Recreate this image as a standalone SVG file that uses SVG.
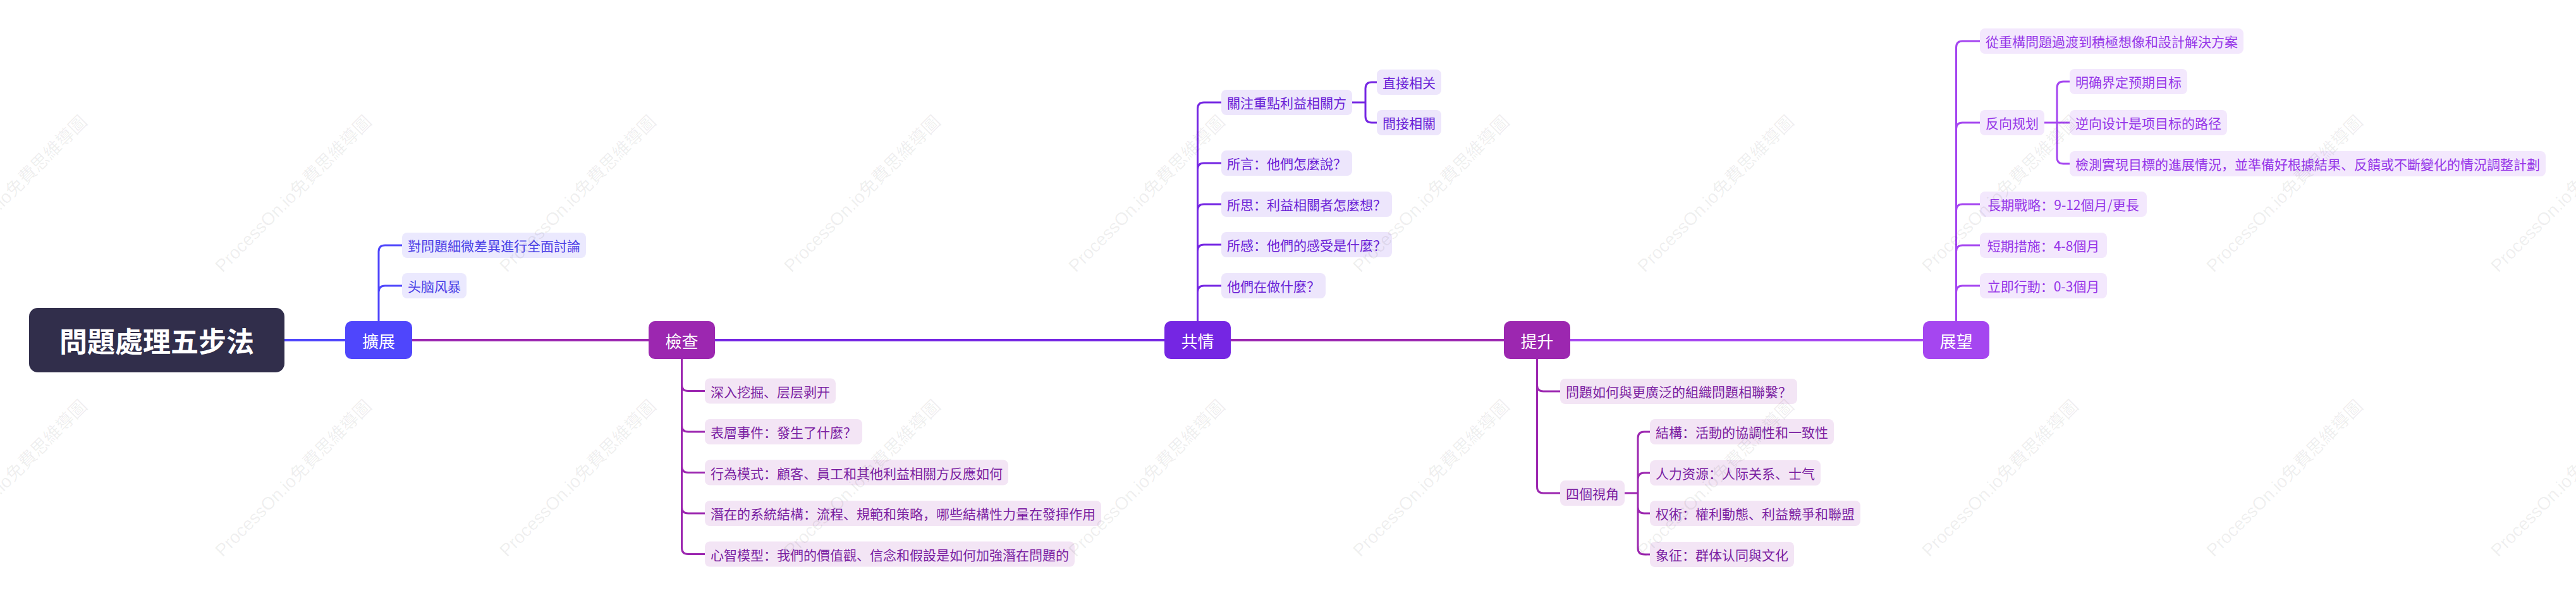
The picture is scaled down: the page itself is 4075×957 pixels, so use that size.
<svg xmlns="http://www.w3.org/2000/svg" width="4075" height="957" viewBox="0 0 4075 957">
<style>
text{font-family:"Noto Sans CJK SC","Noto Sans CJK TC",sans-serif;}
.t{font-size:21px;text-anchor:middle;dominant-baseline:central;}
.mt{font-size:26px;fill:#fff;text-anchor:middle;dominant-baseline:central;}
.rt{font-size:44px;font-weight:bold;fill:#fff;text-anchor:middle;dominant-baseline:central;}
.c{fill:none;stroke-width:3;stroke-linejoin:round;}
.m{fill:none;stroke-width:4;}
.bA{fill:#ebe9fe}.tA{fill:#4a3fe6}.sA{stroke:#4f46fc}
.bB{fill:#f3e5f5}.tB{fill:#7b1fa2}.sB{stroke:#9c27b0}
.bC{fill:#ede6fc}.tC{fill:#6a21d6}.sC{stroke:#7526e3}
.bD{fill:#f3e8fd}.tD{fill:#9636e8}.sD{stroke:#a546f0}
.wm{font-family:"Liberation Sans","Noto Sans CJK TC",sans-serif;font-size:28px;fill:#000;fill-opacity:0.07;}
</style>
<rect width="4075" height="957" fill="#fff"/>
<g id="connectors">
<path class="m sA" d="M450,538H546"/>
<path class="m sB" d="M652,538H1026"/>
<path class="m sC" d="M1131,538H1842"/>
<path class="m sB" d="M1947,538H2379"/>
<path class="m sD" d="M2484,538H3042"/>
<path class="c sA" d="M599,508V398Q599,388 609,388H636M599,508V462Q599,452 609,452H636"/>
<path class="c sB" d="M1078.5,568V608.5Q1078.5,618.5 1088.5,618.5H1115M1078.5,568V673Q1078.5,683 1088.5,683H1115M1078.5,568V737.5Q1078.5,747.5 1088.5,747.5H1115M1078.5,568V802Q1078.5,812 1088.5,812H1115M1078.5,568V866.5Q1078.5,876.5 1088.5,876.5H1115"/>
<path class="c sC" d="M1894.5,508V172Q1894.5,162 1904.5,162H1932M1894.5,508V268Q1894.5,258 1904.5,258H1932M1894.5,508V333Q1894.5,323 1904.5,323H1932M1894.5,508V397Q1894.5,387 1904.5,387H1932M1894.5,508V462Q1894.5,452 1904.5,452H1932"/>
<path class="c sC" d="M2139,162H2160V140Q2160,130 2170,130H2178M2139,162H2160V184Q2160,194 2170,194H2178"/>
<path class="c sB" d="M2431.5,568V609Q2431.5,619 2441.5,619H2468M2431.5,568V770Q2431.5,780 2441.5,780H2468"/>
<path class="c sB" d="M2570,780H2591V693Q2591,683 2601,683H2610M2570,780H2591V758Q2591,748 2601,748H2610M2570,780H2591V802Q2591,812 2601,812H2610M2570,780H2591V867Q2591,877 2601,877H2610"/>
<path class="c sD" d="M3094.5,508V75Q3094.5,65 3104.5,65H3132M3094.5,508V204Q3094.5,194 3104.5,194H3132M3094.5,508V333Q3094.5,323 3104.5,323H3132M3094.5,508V398Q3094.5,388 3104.5,388H3132M3094.5,508V462Q3094.5,452 3104.5,452H3132"/>
<path class="c sD" d="M3234,194H3254V139Q3254,129 3264,129H3274M3234,194H3274M3234,194H3254V249Q3254,259 3264,259H3274"/>
</g>
<g id="root"><rect x="46" y="487" width="404" height="102" rx="14" fill="#312e4b"/><text class="rt" x="248" y="538">問題處理五步法</text></g>
<g id="n-kuozhan"><rect x="546" y="508" width="106" height="60" rx="10" fill="#4f46fc"/><text class="mt" x="599" y="538">擴展</text></g>
<g id="n-jiancha"><rect x="1026" y="508" width="105" height="60" rx="10" fill="#9c27b0"/><text class="mt" x="1078.5" y="538">檢查</text></g>
<g id="n-gongqing"><rect x="1842" y="508" width="105" height="60" rx="10" fill="#7526e3"/><text class="mt" x="1894.5" y="538">共情</text></g>
<g id="n-tisheng"><rect x="2379" y="508" width="105" height="60" rx="10" fill="#9c27b0"/><text class="mt" x="2431.5" y="538">提升</text></g>
<g id="n-zhanwang"><rect x="3042" y="508" width="105" height="60" rx="10" fill="#a546f0"/><text class="mt" x="3094.5" y="538">展望</text></g>

<g id="a1"><rect class="bA" x="636" y="368" width="291" height="40" rx="8"/><text class="t tA" x="781.5" y="388">對問題細微差異進行全面討論</text></g>
<g id="a2"><rect class="bA" x="636" y="432" width="102" height="40" rx="8"/><text class="t tA" x="687" y="452">头脑风暴</text></g>

<g id="b1"><rect class="bB" x="1115" y="598.5" width="207" height="40" rx="8"/><text class="t tB" x="1218.5" y="618.5">深入挖掘、层层剥开</text></g>
<g id="b2"><rect class="bB" x="1115" y="663" width="249" height="40" rx="8"/><text class="t tB" x="1239.5" y="683">表層事件：發生了什麼？</text></g>
<g id="b3"><rect class="bB" x="1115" y="727.5" width="480" height="40" rx="8"/><text class="t tB" x="1355" y="747.5">行為模式：顧客、員工和其他利益相關方反應如何</text></g>
<g id="b4"><rect class="bB" x="1115" y="792" width="627" height="40" rx="8"/><text class="t tB" x="1428.5" y="812">潛在的系統結構：流程、規範和策略，哪些結構性力量在發揮作用</text></g>
<g id="b5"><rect class="bB" x="1115" y="856.5" width="585" height="40" rx="8"/><text class="t tB" x="1407.5" y="876.5">心智模型：我們的價值觀、信念和假設是如何加強潛在問題的</text></g>

<g id="c1"><rect class="bC" x="1932" y="142" width="207" height="40" rx="8"/><text class="t tC" x="2035.5" y="162">關注重點利益相關方</text></g>
<g id="c1a"><rect class="bC" x="2178" y="110" width="102" height="40" rx="8"/><text class="t tC" x="2229" y="130">直接相关</text></g>
<g id="c1b"><rect class="bC" x="2178" y="174" width="102" height="40" rx="8"/><text class="t tC" x="2229" y="194">間接相關</text></g>
<g id="c2"><rect class="bC" x="1932" y="238" width="207" height="40" rx="8"/><text class="t tC" x="2035.5" y="258">所言：他們怎麼說？</text></g>
<g id="c3"><rect class="bC" x="1932" y="303" width="270" height="40" rx="8"/><text class="t tC" x="2067" y="323">所思：利益相關者怎麼想？</text></g>
<g id="c4"><rect class="bC" x="1932" y="367" width="270" height="40" rx="8"/><text class="t tC" x="2067" y="387">所感：他們的感受是什麼？</text></g>
<g id="c5"><rect class="bC" x="1932" y="432" width="165" height="40" rx="8"/><text class="t tC" x="2014.5" y="452">他們在做什麼？</text></g>

<g id="d1"><rect class="bB" x="2468" y="599" width="375" height="40" rx="8"/><text class="t tB" x="2655.5" y="619">問題如何與更廣泛的組織問題相聯繫？</text></g>
<g id="d2"><rect class="bB" x="2468" y="760" width="102" height="40" rx="8"/><text class="t tB" x="2519" y="780">四個視角</text></g>
<g id="d2a"><rect class="bB" x="2610" y="663" width="291" height="40" rx="8"/><text class="t tB" x="2755.5" y="683">結構：活動的協調性和一致性</text></g>
<g id="d2b"><rect class="bB" x="2610" y="728" width="270" height="40" rx="8"/><text class="t tB" x="2745" y="748">人力资源：人际关系、士气</text></g>
<g id="d2c"><rect class="bB" x="2610" y="792" width="333" height="40" rx="8"/><text class="t tB" x="2776.5" y="812">权術：權利動態、利益競爭和聯盟</text></g>
<g id="d2d"><rect class="bB" x="2610" y="857" width="228" height="40" rx="8"/><text class="t tB" x="2724" y="877">象征：群体认同與文化</text></g>

<g id="e1"><rect class="bD" x="3132" y="45" width="417" height="40" rx="8"/><text class="t tD" x="3340.5" y="65">從重構問題過渡到積極想像和設計解決方案</text></g>
<g id="e2"><rect class="bD" x="3132" y="174" width="102" height="40" rx="8"/><text class="t tD" x="3183" y="194">反向规划</text></g>
<g id="e2a"><rect class="bD" x="3274" y="109" width="186" height="40" rx="8"/><text class="t tD" x="3367" y="129">明确界定预期目标</text></g>
<g id="e2b"><rect class="bD" x="3274" y="174" width="249" height="40" rx="8"/><text class="t tD" x="3398.5" y="194">逆向设计是项目标的路径</text></g>
<g id="e2c"><rect class="bD" x="3274" y="239" width="753" height="40" rx="8"/><text class="t tD" x="3650.5" y="259">檢測實現目標的進展情況，並準備好根據結果、反饋或不斷變化的情況調整計劃</text></g>
<g id="e3"><rect class="bD" x="3132" y="303" width="264" height="40" rx="8"/><text class="t tD" x="3264" y="323">長期戰略：9-12個月/更長</text></g>
<g id="e4"><rect class="bD" x="3132" y="368" width="201" height="40" rx="8"/><text class="t tD" x="3232.5" y="388">短期措施：4-8個月</text></g>
<g id="e5"><rect class="bD" x="3132" y="432" width="201" height="40" rx="8"/><text class="t tD" x="3232.5" y="452">立即行動：0-3個月</text></g>

<g id="watermarks">
<text class="wm" x="-98" y="432" transform="rotate(-45 -98 432)">ProcessOn.io免費思維導圖</text>
<text class="wm" x="352" y="432" transform="rotate(-45 352 432)">ProcessOn.io免費思維導圖</text>
<text class="wm" x="802" y="432" transform="rotate(-45 802 432)">ProcessOn.io免費思維導圖</text>
<text class="wm" x="1252" y="432" transform="rotate(-45 1252 432)">ProcessOn.io免費思維導圖</text>
<text class="wm" x="1702" y="432" transform="rotate(-45 1702 432)">ProcessOn.io免費思維導圖</text>
<text class="wm" x="2152" y="432" transform="rotate(-45 2152 432)">ProcessOn.io免費思維導圖</text>
<text class="wm" x="2602" y="432" transform="rotate(-45 2602 432)">ProcessOn.io免費思維導圖</text>
<text class="wm" x="3052" y="432" transform="rotate(-45 3052 432)">ProcessOn.io免費思維導圖</text>
<text class="wm" x="3502" y="432" transform="rotate(-45 3502 432)">ProcessOn.io免費思維導圖</text>
<text class="wm" x="3952" y="432" transform="rotate(-45 3952 432)">ProcessOn.io免費思維導圖</text>
<text class="wm" x="-98" y="882" transform="rotate(-45 -98 882)">ProcessOn.io免費思維導圖</text>
<text class="wm" x="352" y="882" transform="rotate(-45 352 882)">ProcessOn.io免費思維導圖</text>
<text class="wm" x="802" y="882" transform="rotate(-45 802 882)">ProcessOn.io免費思維導圖</text>
<text class="wm" x="1252" y="882" transform="rotate(-45 1252 882)">ProcessOn.io免費思維導圖</text>
<text class="wm" x="1702" y="882" transform="rotate(-45 1702 882)">ProcessOn.io免費思維導圖</text>
<text class="wm" x="2152" y="882" transform="rotate(-45 2152 882)">ProcessOn.io免費思維導圖</text>
<text class="wm" x="2602" y="882" transform="rotate(-45 2602 882)">ProcessOn.io免費思維導圖</text>
<text class="wm" x="3052" y="882" transform="rotate(-45 3052 882)">ProcessOn.io免費思維導圖</text>
<text class="wm" x="3502" y="882" transform="rotate(-45 3502 882)">ProcessOn.io免費思維導圖</text>
<text class="wm" x="3952" y="882" transform="rotate(-45 3952 882)">ProcessOn.io免費思維導圖</text>
</g>
</svg>
